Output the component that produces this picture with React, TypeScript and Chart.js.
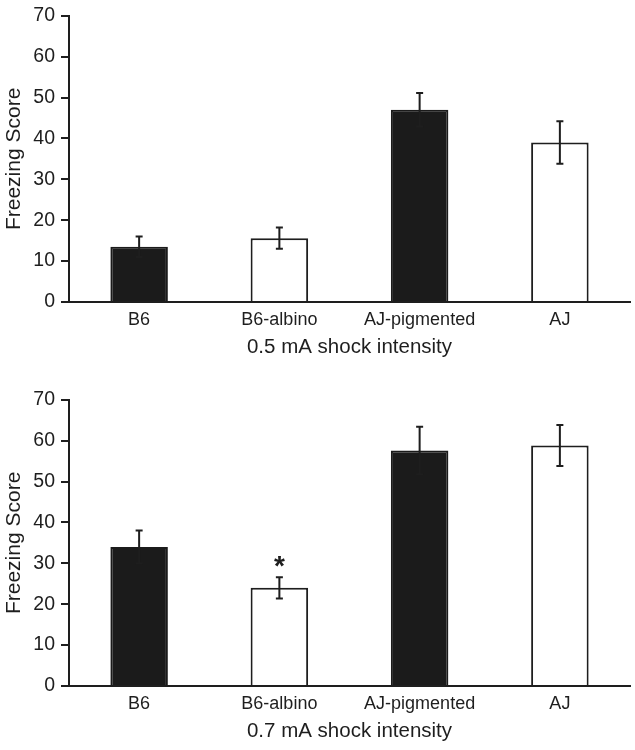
import React, { useEffect, useRef } from "react";
import { Chart, registerables } from "chart.js";

Chart.register(...registerables);

const categories = ["B6", "B6-albino", "AJ-pigmented", "AJ"];
const yTicks = [0, 10, 20, 30, 40, 50, 60, 70];
const values05 = [13.5, 15.6, 47.0, 39.0];
const errors05 = [2.5, 2.6, 4.1, 5.2];
const values07 = [34.0, 24.0, 57.6, 58.8];
const errors07 = [4.0, 2.6, 5.8, 5.0];
const marks05 = ["", "", "", ""];
const marks07 = ["", "*", "", ""];
const fills = ["#1b1b1b", "#ffffff", "#1b1b1b", "#ffffff"];
const borders = ["#1b1b1b", "#1e1e1e", "#1b1b1b", "#1e1e1e"];
const xTitle05 = "0.5 mA shock intensity";
const xTitle07 = "0.7 mA shock intensity";
const yTitle = "Freezing Score";

const FONT = "'Liberation Sans', Arial, Helvetica, sans-serif";
const INK = "#1e1e1e";

const errorBarPlugin = {
  id: "errorBars",
  afterDatasetsDraw(chart: any, _args: any, opts: any) {
    const { ctx } = chart;
    const meta = chart.getDatasetMeta(0);
    const yScale = chart.scales.y;
    const vals = chart.data.datasets[0].data as number[];
    ctx.save();
    ctx.strokeStyle = INK;
    ctx.lineWidth = 2;
    meta.data.forEach((el: any, i: number) => {
      const v = vals[i];
      const e = opts.errors[i];
      const x = el.x;
      const yTop = yScale.getPixelForValue(v + e);
      const yBot = yScale.getPixelForValue(v - e);
      ctx.beginPath();
      ctx.moveTo(x, yTop);
      ctx.lineTo(x, yBot);
      ctx.moveTo(x - 3.5, yTop);
      ctx.lineTo(x + 3.5, yTop);
      ctx.moveTo(x - 3.5, yBot);
      ctx.lineTo(x + 3.5, yBot);
      ctx.stroke();
      const m = opts.marks[i];
      if (m) {
        ctx.fillStyle = INK;
        ctx.font = `bold 28px ${FONT}`;
        ctx.textAlign = "center";
        ctx.textBaseline = "alphabetic";
        ctx.fillText(m, x, yTop - 18 + 0.57 * 28);
      }
    });
    ctx.restore();
  },
};

function Panel(props: {
  values: number[];
  errors: number[];
  marks: string[];
  xTitle: string;
  height: number;
  top: number;
}) {
  const ref = useRef<HTMLCanvasElement>(null);
  useEffect(() => {
    const canvas = ref.current!;
    const H = props.height;
    const chart = new Chart(canvas, {
      type: "bar",
      data: {
        labels: categories,
        datasets: [
          {
            data: props.values,
            backgroundColor: fills,
            borderColor: borders,
            borderWidth: 2,
            borderSkipped: "bottom",
            barPercentage: 0.41,
            categoryPercentage: 1,
          },
        ],
      },
      options: {
        responsive: false,
        animation: false,
        devicePixelRatio: 1,
        layout: { padding: { top: 10, right: 5, left: 0, bottom: 0 } },
        plugins: {
          legend: { display: false },
          tooltip: { enabled: false },
          errorBars: { errors: props.errors, marks: props.marks },
        } as any,
        scales: {
          x: {
            type: "category",
            grid: { display: false, drawTicks: false },
            border: { display: true, color: INK, width: 2 },
            ticks: {
              color: INK,
              font: { family: FONT, size: 18 },
              padding: 7,
              maxRotation: 0,
            },
            title: {
              display: true,
              text: props.xTitle,
              color: INK,
              font: { family: FONT, size: 20.5 },
              padding: { top: 0, bottom: H - 348 - 12 },
            },
            afterFit: (s: any) => {
              s.height = H - 302;
            },
          },
          y: {
            min: 0,
            max: 70,
            grid: {
              display: true,
              drawOnChartArea: false,
              drawTicks: true,
              tickLength: 8,
              color: INK,
              lineWidth: 2,
            },
            border: { display: true, color: INK, width: 2 },
            ticks: {
              color: INK,
              font: { family: FONT, size: 19.5, lineHeight: 1 },
              padding: 6,
            },
            afterBuildTicks: (s: any) => {
              s.ticks = yTicks.map((v) => ({ value: v }));
            },
            title: {
              display: true,
              text: yTitle,
              color: INK,
              font: { family: FONT, size: 21 },
              padding: { top: 2, bottom: 0 },
            },
            afterFit: (s: any) => {
              s.width = 69;
            },
          },
        },
      },
      plugins: [errorBarPlugin],
    } as any);
    return () => chart.destroy();
  }, []);
  return (
    <canvas
      ref={ref}
      width={635}
      height={props.height}
      style={{ position: "absolute", left: 0, top: props.top, display: "block" }}
    />
  );
}

export default function App() {
  return (
    <div
      style={{
        position: "absolute",
        left: 0,
        top: 0,
        width: 635,
        height: 750,
        background: "#fff",
        overflow: "hidden",
      }}
    >
      <Panel values={values05} errors={errors05} marks={marks05} xTitle={xTitle05} height={384} top={0} />
      <Panel values={values07} errors={errors07} marks={marks07} xTitle={xTitle07} height={366} top={384} />
    </div>
  );
}
